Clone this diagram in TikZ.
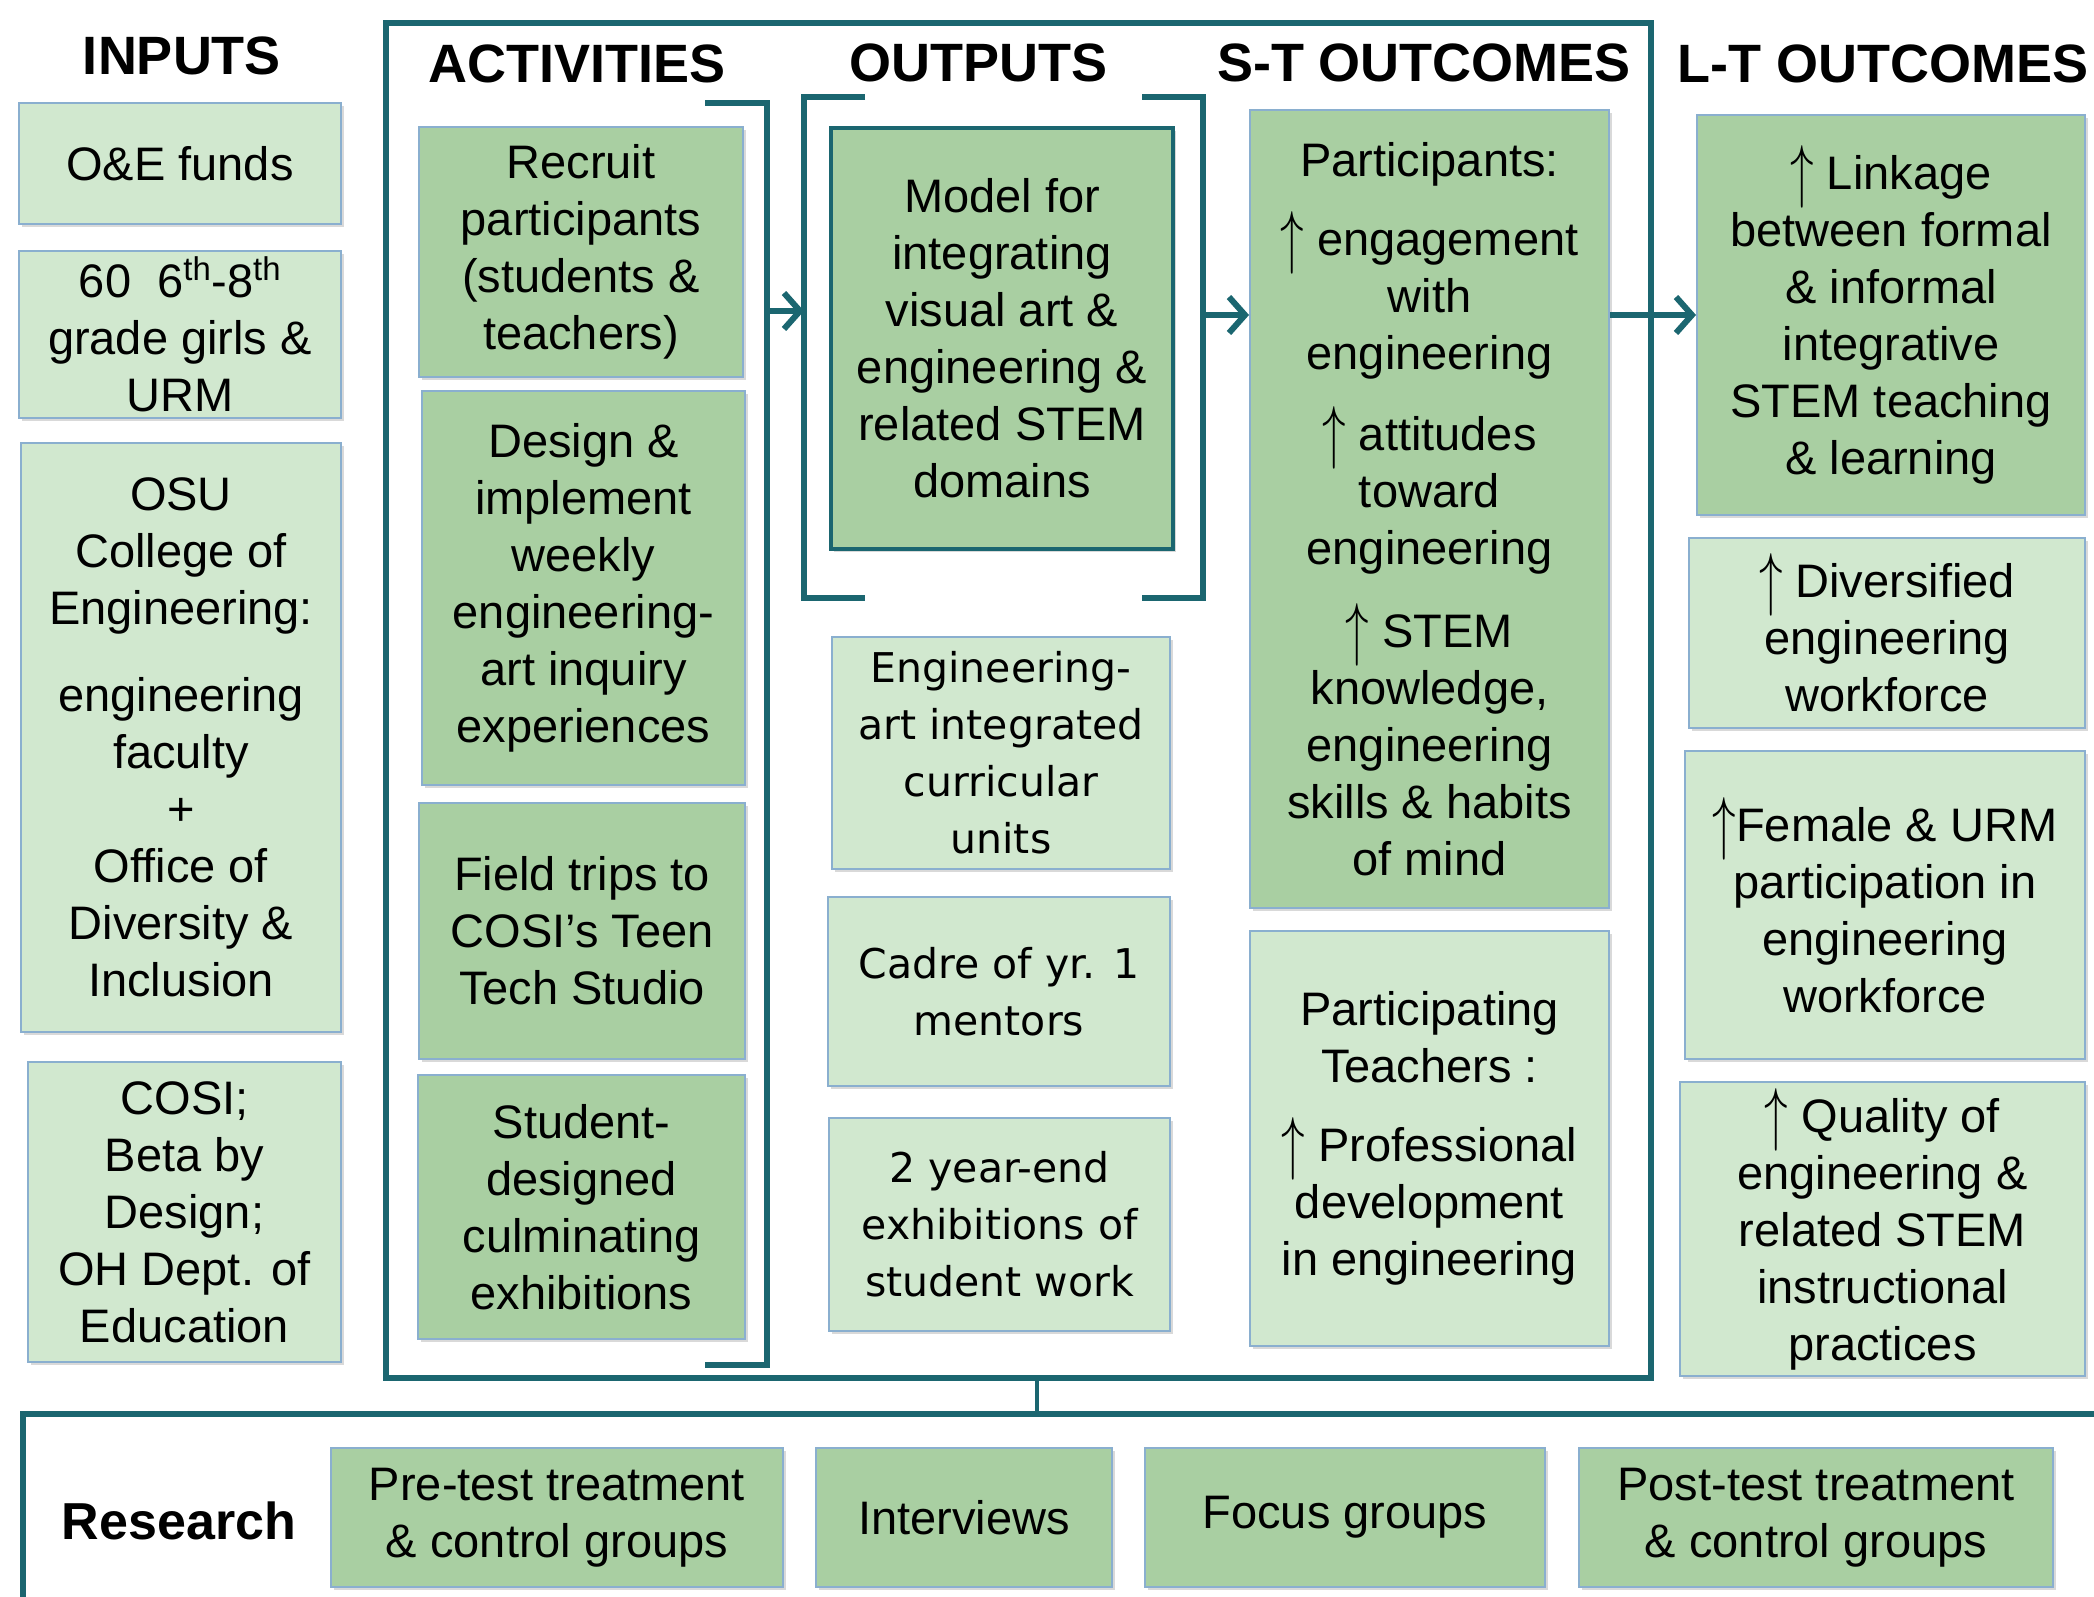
\RequirePackage{fix-cm}
\documentclass[tikz,border=0pt]{standalone}
\usepackage{fontspec}
\setmainfont{Liberation Sans}
\newfontfamily\widefont{DejaVu Sans}
\usetikzlibrary{arrows.meta,shadows}
\definecolor{tealc}{HTML}{1B6670}
\definecolor{lightg}{HTML}{D1E8CF}
\definecolor{darkg}{HTML}{A9CFA2}
\definecolor{boxedge}{HTML}{8AAFCF}
\newcommand\upa{\raisebox{-5pt}{\scalebox{1}[1.5]{$\uparrow$}}}
\newcommand\mkbox[7]{%
  \pgfmathsetmacro\bw{#5-#3}\pgfmathsetmacro\bh{#6-#4}%
  \node[#2, minimum width=\bw pt, minimum height=\bh pt] (#1) at ({(#3+#5)/2},{(#4+#6)/2}) {#7};}
\tikzset{
  base/.style={draw=boxedge, line width=2pt, align=center, inner sep=0pt,
    font=\fontsize{47}{57}\selectfont,
    drop shadow={shadow xshift=3pt,shadow yshift=-3pt,fill=black,opacity=0.15}},
  light/.style={base, fill=lightg},
  dark/.style={base, fill=darkg},
  widetext/.style={font=\widefont\fontsize{41}{57}\selectfont},
  frame/.style={draw=tealc, line width=6pt, inner sep=0pt},
  hdr/.style={font=\bfseries\fontsize{54}{60}\selectfont, inner sep=0pt},
  brk/.style={draw=tealc, line width=6pt},
  arr/.style={draw=tealc, line width=6pt, -{Straight Barb[length=16pt,width=36pt]}}
}
\begin{document}
\begin{tikzpicture}[x=1pt,y=-1pt]
\useasboundingbox (0,0) rectangle (2094,1597);
\fill[white] (0,0) rectangle (2094,1597);
\clip (0,0) rectangle (2094,1597);

% frames
\mkbox{main}{frame}{386}{23}{1651}{1378}{}
\mkbox{research}{frame}{23}{1414}{2130}{1640}{}

% headers
\node[hdr] (hin) at (182,56) {INPUTS};
\node[hdr] (hact) at (577,64) {ACTIVITIES};
\node[hdr] (hout) at (978,63) {OUTPUTS};
\node[hdr] (hst) at (1424,63) {S-T OUTCOMES};
\node[hdr] (hlt) at (1883,64) {L-T OUTCOMES};

% inputs
\mkbox{in1}{light}{19}{103}{341}{224}{O\&E funds}
\mkbox{in2}{light}{19}{251}{341}{418}{60\ \ 6\textsuperscript{th}-8\textsuperscript{th}\\grade girls \&\\URM}
\mkbox{in3}{light}{21}{443}{341}{1032}{OSU\\College of\\Engineering:\\[30pt]engineering\\faculty\\+\\Office of\\Diversity \&\\Inclusion}
\mkbox{in4}{light}{28}{1062}{341}{1362}{COSI;\\Beta by\\Design;\\OH Dept. of\\Education}

% activities
\mkbox{ac1}{dark}{419}{127}{743}{377}{Recruit\\participants\\(students \&\\teachers)}
\mkbox{ac2}{dark}{422}{391}{745}{785}{Design \&\\implement\\weekly\\engineering-\\art inquiry\\experiences}
\mkbox{ac3}{dark}{419}{803}{745}{1059}{Field trips to\\COSI’s Teen\\Tech Studio}
\mkbox{ac4}{dark}{418}{1075}{745}{1339}{Student-\\designed\\culminating\\exhibitions}

% activities bracket
\coordinate (abT) at (705,103);
\coordinate (abB) at (705,1365);
\coordinate (abR) at (767,311);
\draw[brk] (abT) -- (767,103) -- (767,1365) -- (abB);

% outputs
\mkbox{mdl}{dark, draw=tealc, line width=4pt}{831}{128}{1173}{549}{Model for\\integrating\\visual art \&\\engineering \&\\related STEM\\domains}
\mkbox{ou2}{light, widetext}{832}{637}{1170}{869}{Engineering-\\art integrated\\curricular\\units}
\mkbox{ou3}{light, widetext}{828}{897}{1170}{1086}{Cadre of yr. 1\\mentors}
\mkbox{ou4}{light, widetext}{829}{1118}{1170}{1331}{2 year-end\\exhibitions of\\student work}

% outputs brackets
\coordinate (obL) at (804,311);
\coordinate (obR) at (1203,315);
\draw[brk] (865,97) -- (804,97) -- (804,598) -- (865,598);
\draw[brk] (1142,97) -- (1203,97) -- (1203,598) -- (1142,598);

% short-term outcomes
\mkbox{st1}{dark}{1250}{110}{1609}{908}{Participants:\\[22pt]\upa\ engagement\\with\\engineering\\[24pt]\upa\ attitudes\\toward\\engineering\\[26pt]\upa\ STEM\\knowledge,\\engineering\\skills \& habits\\of mind}
\mkbox{st2}{light}{1250}{931}{1609}{1346}{Participating\\Teachers :\\[22pt]\upa\ Professional\\development\\in engineering}

% long-term outcomes
\mkbox{lt1}{dark}{1697}{115}{2085}{515}{\upa\ Linkage\\between formal\\\& informal\\integrative\\STEM teaching\\\& learning}
\mkbox{lt2}{light}{1689}{538}{2085}{728}{\upa\ Diversified\\engineering\\workforce}
\mkbox{lt3}{light}{1685}{751}{2085}{1059}{\upa Female \& URM\\participation in\\engineering\\workforce}
\mkbox{lt4}{light}{1680}{1082}{2085}{1376}{\upa\ Quality of\\engineering \&\\related STEM\\instructional\\practices}

% research
\node[hdr, font=\bfseries\fontsize{52}{60}\selectfont] (rlab) at (179,1521) {Research};
\mkbox{r1}{dark}{331}{1448}{783}{1587}{Pre-test treatment\\\& control groups}
\mkbox{r2}{dark}{816}{1448}{1112}{1587}{Interviews}
\mkbox{r3}{dark}{1145}{1448}{1545}{1587}{Focus groups}
\mkbox{r4}{dark}{1579}{1448}{2053}{1587}{Post-test treatment\\\& control groups}

% connectors
\draw[arr] (abR) -- (obL);
\draw[arr] (obR) -- (st1.west |- obR);
\draw[arr] (st1.east |- lt1.west) -- (lt1.west);
\coordinate (mc) at (1037,1378);
\draw[draw=tealc, line width=4pt] (mc) -- (mc |- research.north);
\end{tikzpicture}
\end{document}
